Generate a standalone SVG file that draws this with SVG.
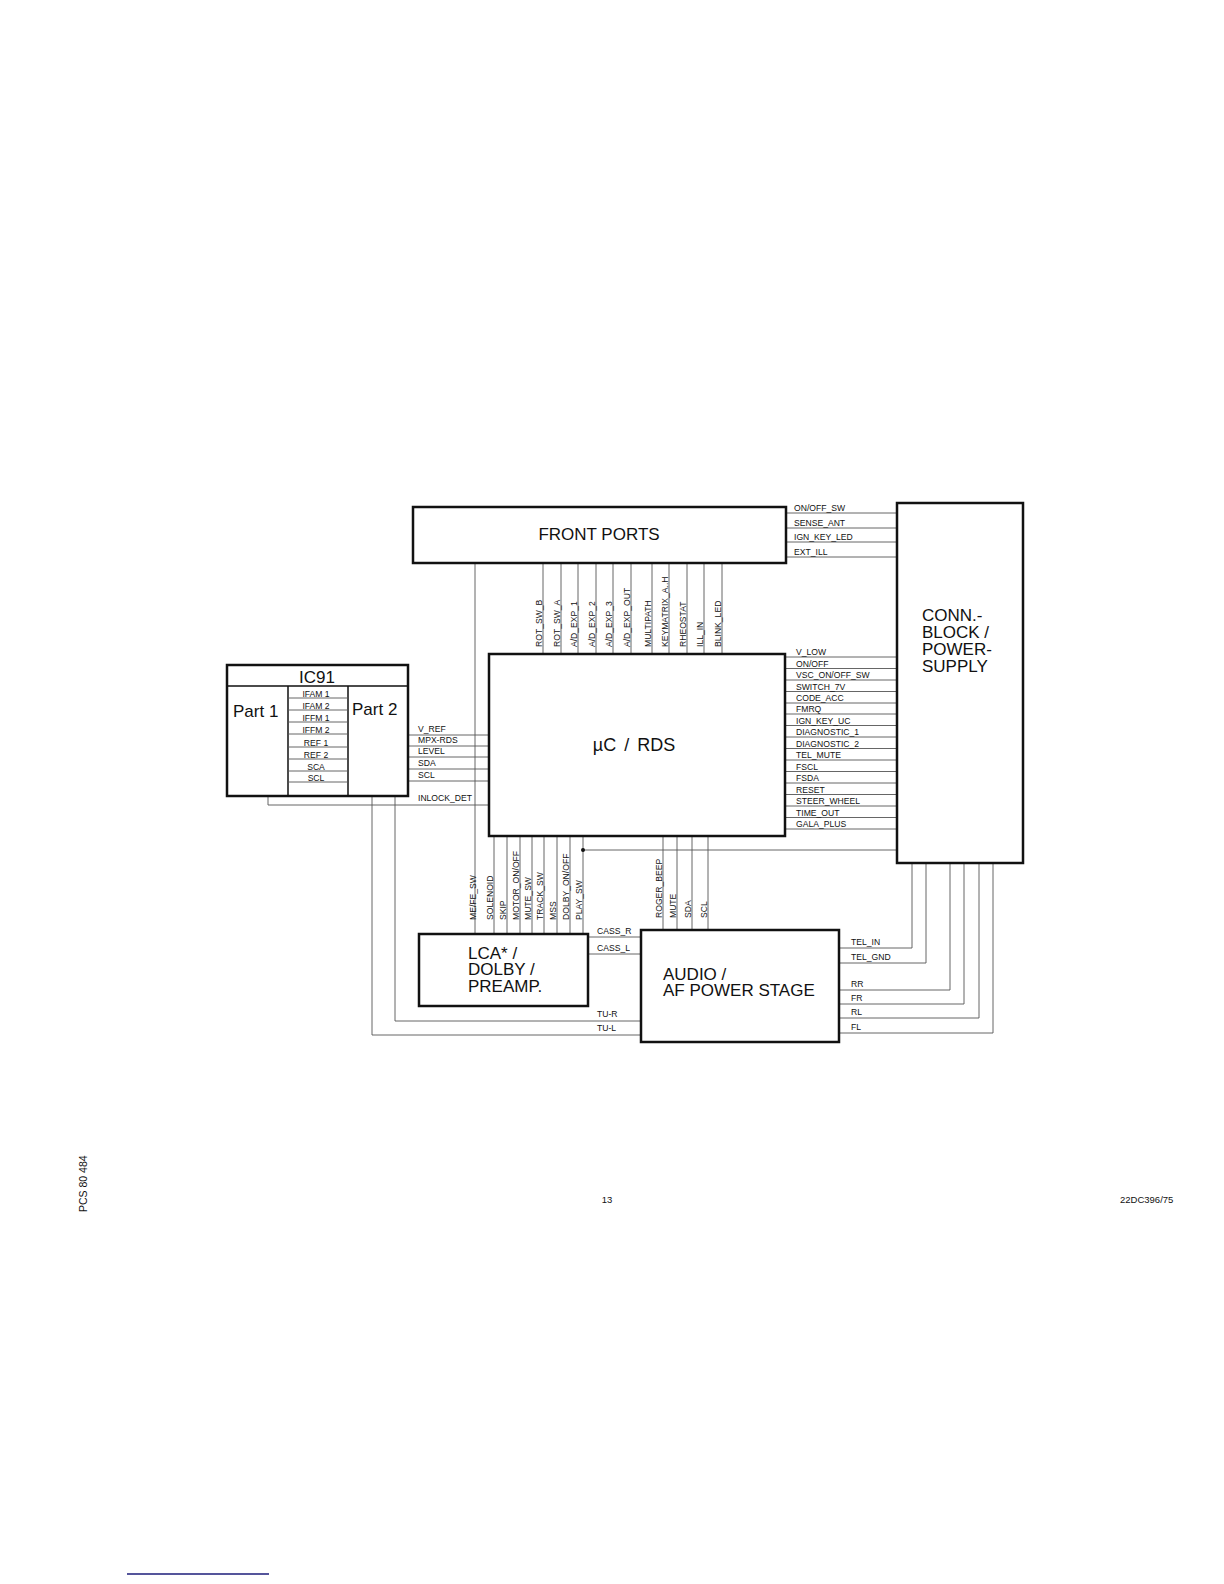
<svg xmlns="http://www.w3.org/2000/svg" width="1224" height="1584" viewBox="0 0 1224 1584">
<style>
.box{fill:#fff;stroke:#111;stroke-width:2.5}
.thin{fill:none;stroke:#111;stroke-width:1.5}
.w{fill:none;stroke:#555;stroke-width:0.9}
.t{font-family:"Liberation Sans",Arial,sans-serif;fill:#111}
.big{font-size:17px}
.sm{font-size:8.6px}
</style>
<rect width="1224" height="1584" fill="#fff"/>
<g id="connectors">
<path class="w" d="M786 513H897M786 528H897M786 542H897M786 557H897"/>
<path class="w" d="M543 563V654M561 563V654M578 563V654M596 563V654M613 563V654M631 563V654M652 563V654M669 563V654M687 563V654M704 563V654M722 563V654"/>
<path class="w" d="M785 657H897M785 668.5H897M785 680H897M785 691.5H897M785 703H897M785 714H897M785 725.5H897M785 737H897M785 748.5H897M785 760H897M785 771.5H897M785 783H897M785 794.5H897M785 806H897M785 817.5H897M785 829H897"/>
<path class="w" d="M408 735H489M408 746H489M408 757H489M408 769H489M408 781H489M268 796V805H489"/>
<path class="w" d="M475 563V934"/>
<path class="w" d="M494 836V934M507 836V934M520 836V934M532 836V934M544 836V934M557 836V934M570 836V934M583 836V934"/>
<path class="w" d="M583 850H897"/>
<circle cx="583" cy="850" r="2" fill="#111"/>
<path class="w" d="M663 836V930M677 836V930M692 836V930M708 836V930"/>
<path class="w" d="M588 937H641M588 954H641"/>
<path class="w" d="M395 796V1021H641M372 796V1035H641"/>
<path class="w" d="M839 948H912V863M839 963H926V863M839 990H950V863M839 1004H964V863M839 1018H979V863M839 1033H993V863"/>
</g>
<g id="labels" class="t sm">
<text x="794" y="511">ON/OFF_SW</text>
<text x="794" y="526">SENSE_ANT</text>
<text x="794" y="540">IGN_KEY_LED</text>
<text x="794" y="555">EXT_ILL</text>
<g>
<text transform="translate(541.5,647) rotate(-90)">ROT_SW_B</text>
<text transform="translate(559.5,647) rotate(-90)">ROT_SW_A</text>
<text transform="translate(576.5,647) rotate(-90)">A/D_EXP_1</text>
<text transform="translate(594.5,647) rotate(-90)">A/D_EXP_2</text>
<text transform="translate(611.5,647) rotate(-90)">A/D_EXP_3</text>
<text transform="translate(629.5,647) rotate(-90)">A/D_EXP_OUT</text>
<text transform="translate(650.5,647) rotate(-90)">MULTIPATH</text>
<text transform="translate(667.5,647) rotate(-90)">KEYMATRIX_A..H</text>
<text transform="translate(685.5,647) rotate(-90)">RHEOSTAT</text>
<text transform="translate(702.5,647) rotate(-90)">ILL_IN</text>
<text transform="translate(720.5,647) rotate(-90)">BLINK_LED</text>
</g>
<text x="796" y="655">V_LOW</text>
<text x="796" y="666.5">ON/OFF</text>
<text x="796" y="678">VSC_ON/OFF_SW</text>
<text x="796" y="689.5">SWITCH_7V</text>
<text x="796" y="701">CODE_ACC</text>
<text x="796" y="712">FMRQ</text>
<text x="796" y="723.5">IGN_KEY_UC</text>
<text x="796" y="735">DIAGNOSTIC_1</text>
<text x="796" y="746.5">DIAGNOSTIC_2</text>
<text x="796" y="758">TEL_MUTE</text>
<text x="796" y="769.5">FSCL</text>
<text x="796" y="781">FSDA</text>
<text x="796" y="792.5">RESET</text>
<text x="796" y="804">STEER_WHEEL</text>
<text x="796" y="815.5">TIME_OUT</text>
<text x="796" y="827">GALA_PLUS</text>
<text x="418" y="732">V_REF</text>
<text x="418" y="743">MPX-RDS</text>
<text x="418" y="754">LEVEL</text>
<text x="418" y="766">SDA</text>
<text x="418" y="778">SCL</text>
<text x="418" y="801">INLOCK_DET</text>
<g>
<text transform="translate(475.5,920) rotate(-90)">ME/FE_SW</text>
<text transform="translate(492.5,920) rotate(-90)">SOLENOID</text>
<text transform="translate(505.5,920) rotate(-90)">SKIP</text>
<text transform="translate(518.5,920) rotate(-90)">MOTOR_ON/OFF</text>
<text transform="translate(530.5,920) rotate(-90)">MUTE_SW</text>
<text transform="translate(542.5,920) rotate(-90)">TRACK_SW</text>
<text transform="translate(555.5,920) rotate(-90)">MSS</text>
<text transform="translate(568.5,920) rotate(-90)">DOLBY_ON/OFF</text>
<text transform="translate(581.5,920) rotate(-90)">PLAY_SW</text>
<text transform="translate(661.5,918) rotate(-90)">ROGER_BEEP</text>
<text transform="translate(675.5,918) rotate(-90)">MUTE</text>
<text transform="translate(690.5,918) rotate(-90)">SDA</text>
<text transform="translate(706.5,918) rotate(-90)">SCL</text>
</g>
<text x="597" y="934">CASS_R</text>
<text x="597" y="951">CASS_L</text>
<text x="597" y="1017">TU-R</text>
<text x="597" y="1031">TU-L</text>
<text x="851" y="945">TEL_IN</text>
<text x="851" y="960">TEL_GND</text>
<text x="851" y="987">RR</text>
<text x="851" y="1001">FR</text>
<text x="851" y="1015">RL</text>
<text x="851" y="1030">FL</text>
</g>
<g id="front-ports">
<rect class="box" x="413" y="507" width="373" height="56"/>
<text class="t big" x="599" y="540" text-anchor="middle">FRONT PORTS</text>
</g>
<g id="conn-block">
<rect class="box" x="897" y="503" width="126" height="360"/>
<text class="t big" x="922" y="621">CONN.-</text>
<text class="t big" x="922" y="638">BLOCK /</text>
<text class="t big" x="922" y="655">POWER-</text>
<text class="t big" x="922" y="672">SUPPLY</text>
</g>
<g id="uc-rds">
<rect class="box" x="489" y="654" width="296" height="182"/>
<text class="t" font-size="18" word-spacing="3" x="634" y="751" text-anchor="middle">µC / RDS</text>
</g>
<g id="ic91">
<rect class="box" x="227" y="665" width="181" height="131"/>
<path class="thin" d="M227 686H408M288 686V796M348 686V796"/>
<path class="w" d="M288 698H348M288 710H348M288 722H348M288 734H348M288 747H348M288 759H348M288 771H348M288 782H348"/>
<text class="t big" x="317" y="683" text-anchor="middle">IC91</text>
<text class="t big" x="233" y="717">Part 1</text>
<text class="t big" x="352" y="715">Part 2</text>
<g class="t sm" text-anchor="middle">
<text x="316" y="696.5">IFAM 1</text>
<text x="316" y="708.5">IFAM 2</text>
<text x="316" y="720.5">IFFM 1</text>
<text x="316" y="732.5">IFFM 2</text>
<text x="316" y="745.5">REF 1</text>
<text x="316" y="757.5">REF 2</text>
<text x="316" y="769.5">SCA</text>
<text x="316" y="780.5">SCL</text>
</g>
</g>
<g id="lca">
<rect class="box" x="419" y="934" width="169" height="72"/>
<text class="t big" x="468" y="959">LCA* /</text>
<text class="t big" x="468" y="975">DOLBY /</text>
<text class="t big" x="468" y="992">PREAMP.</text>
</g>
<g id="audio">
<rect class="box" x="641" y="930" width="198" height="112"/>
<text class="t big" x="663" y="980">AUDIO /</text>
<text class="t big" x="663" y="996">AF POWER STAGE</text>
</g>
<g id="footer" class="t">
<text transform="translate(87,1212) rotate(-90)" font-size="10.5">PCS 80 484</text>
<text x="607" y="1203" font-size="9.5" text-anchor="middle">13</text>
<text x="1120" y="1203" font-size="9.5">22DC396/75</text>
<line x1="127" y1="1574" x2="269" y2="1574" stroke="#1c1c7a" stroke-width="1.5"/>
</g>
</svg>
